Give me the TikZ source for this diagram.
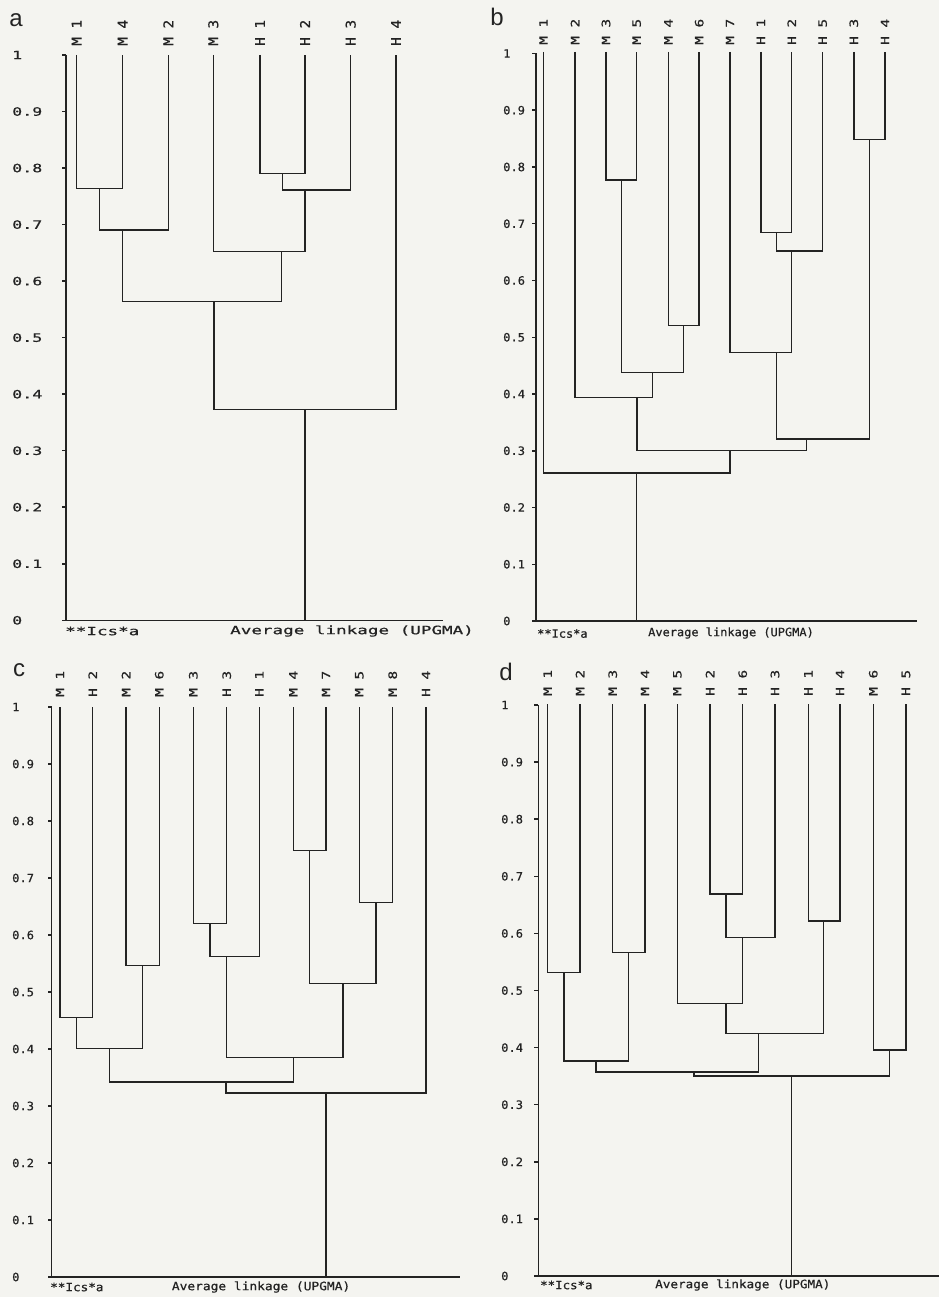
\documentclass[tikz,border=0pt]{standalone}
\usepackage{fontspec}
\usepackage{graphicx}
\newfontfamily\plotfont[FakeBold=0.6]{DejaVu Sans Mono}
\newfontfamily\letfont{Liberation Sans}
\definecolor{paper}{RGB}{244,244,240}
\definecolor{ink}{RGB}{35,35,35}
\newcommand\pf{\plotfont\fontsize{11.5}{13}\selectfont}
\newcommand\lsy{1}
\newcommand\leaf[5]{\coordinate (#1) at (#2,#3);
  \node[leaflab] (#1-lab) at (#2,#4) {\scalebox{1.25}[\lsy]{#5}};}
\newcommand\mrg[5]{\coordinate (#1) at (#4,#5);
  \draw[dl] (#2) |- (#1) -| (#3);}
\newcommand\yaxis[6]{%
  \coordinate (#1-ax0) at (#2,#3);
  \coordinate (#1-ax1) at (#2,{#3-10*#4});
  \draw[dl] (#1-ax1) -- (#1-ax0);
  \foreach \i/\t in {0/0,1/0.1,2/0.2,3/0.3,4/0.4,5/0.5,6/0.6,7/0.7,8/0.8,9/0.9,10/1}{
    \draw[dl] (#2,{#3-\i*#4}) -- ++(-4,0);
    \node[ticklab] (#1-t\i) at (#5,{#3-\i*#4}) {\scalebox{#6}[1]{\t}};
  }}
\begin{document}
\begin{tikzpicture}[x=1pt,y=-1pt,
  dl/.style={draw=ink,line width=1.5pt},
  leaflab/.style={rotate=90,anchor=west,inner sep=0pt,font=\pf,text=ink},
  ticklab/.style={anchor=west,inner sep=0pt,font=\pf,text=ink},
  botlab/.style={anchor=west,inner sep=0pt,font=\pf,text=ink},
  panlab/.style={inner sep=0pt,font=\letfont\fontsize{24}{26}\selectfont,text=ink}]
\fill[paper] (0,0) rectangle (939,1297);
\useasboundingbox (0,0) rectangle (939,1297);

% ---------------- panel a ----------------
\node[panlab] (pa) at (16,20) {a};
\yaxis{a}{66}{620.3}{56.53}{12}{1.45}
\renewcommand\lsy{1.17}
\leaf{a-M1}{76.7}{55}{46}{M 1}
\leaf{a-M4}{122.7}{55}{46}{M 4}
\leaf{a-M2}{168.3}{55}{46}{M 2}
\leaf{a-M3}{213.3}{55}{46}{M 3}
\leaf{a-H1}{260}{55}{46}{H 1}
\leaf{a-H2}{305}{55}{46}{H 2}
\leaf{a-H3}{350.7}{55}{46}{H 3}
\leaf{a-H4}{396}{55}{46}{H 4}
\mrg{a-m1}{a-M1}{a-M4}{99.5}{188.3}
\mrg{a-m2}{a-m1}{a-M2}{122.5}{230}
\mrg{a-m3}{a-H1}{a-H2}{282.5}{173.3}
\mrg{a-m4}{a-m3}{a-H3}{305}{190}
\mrg{a-m5}{a-M3}{a-m4}{281.5}{251.7}
\mrg{a-m6}{a-m2}{a-m5}{213.8}{301.7}
\mrg{a-m7}{a-m6}{a-H4}{305}{409.3}
\draw[dl] (a-m7) -- (a-m7 |- a-ax0);
\coordinate (a-bl) at (62,620.3);
\coordinate (a-br) at (443,620.3);
\draw[dl] (a-bl) -- (a-br);
\node[botlab] (a-ics) at (65,631) {\scalebox{1.53}[1]{**Ics*a}};
\node[botlab] (a-avg) at (230,631) {\scalebox{1.53}[1]{Average linkage (UPGMA)}};

% ---------------- panel b ----------------
\renewcommand\lsy{1}
\node[panlab] (pb) at (497,17) {b};
\yaxis{b}{536}{621}{56.75}{503}{1.05}
\leaf{b-M1}{543.5}{52}{45}{M 1}
\leaf{b-M2}{575}{52}{45}{M 2}
\leaf{b-M3}{606}{52}{45}{M 3}
\leaf{b-M5}{636.7}{52}{45}{M 5}
\leaf{b-M4}{668.3}{52}{45}{M 4}
\leaf{b-M6}{699.2}{52}{45}{M 6}
\leaf{b-M7}{730}{52}{45}{M 7}
\leaf{b-H1}{760.8}{52}{45}{H 1}
\leaf{b-H2}{791.7}{52}{45}{H 2}
\leaf{b-H5}{822.7}{52}{45}{H 5}
\leaf{b-H3}{853.8}{52}{45}{H 3}
\leaf{b-H4}{885}{52}{45}{H 4}
\mrg{b-m1}{b-M3}{b-M5}{621.3}{180}
\mrg{b-m2}{b-M4}{b-M6}{683.7}{325.7}
\mrg{b-m3}{b-m1}{b-m2}{652.5}{372.3}
\mrg{b-m4}{b-M2}{b-m3}{637.2}{397.3}
\mrg{b-m5}{b-H1}{b-H2}{776.3}{232.7}
\mrg{b-m6}{b-m5}{b-H5}{791.7}{251}
\mrg{b-m7}{b-M7}{b-m6}{776.3}{352.3}
\mrg{b-m8}{b-H3}{b-H4}{869.4}{139.3}
\mrg{b-m9}{b-m7}{b-m8}{806.7}{439}
\mrg{b-m10}{b-m4}{b-m9}{730}{450.7}
\mrg{b-m11}{b-M1}{b-m10}{636.7}{473}
\draw[dl] (b-m11) -- (b-m11 |- b-ax0);
\coordinate (b-bl) at (533,621);
\coordinate (b-br) at (916.7,621);
\draw[dl] (b-bl) -- (b-br);
\node[botlab] (b-ics) at (537,633.5) {\scalebox{1.04}[1]{**Ics*a}};
\node[botlab] (b-avg) at (648,633) {\scalebox{1.04}[1]{Average linkage (UPGMA)}};

% ---------------- panel c ----------------
\node[panlab] (pc) at (19,670) {c};
\yaxis{c}{51.7}{1277}{57}{12}{1.05}
\leaf{c-M1}{60}{707}{697}{M 1}
\leaf{c-H2}{92.7}{707}{697}{H 2}
\leaf{c-M2}{126}{707}{697}{M 2}
\leaf{c-M6}{159.3}{707}{697}{M 6}
\leaf{c-M3}{193.3}{707}{697}{M 3}
\leaf{c-H3}{226.7}{707}{697}{H 3}
\leaf{c-H1}{259.3}{707}{697}{H 1}
\leaf{c-M4}{293.3}{707}{697}{M 4}
\leaf{c-M7}{326}{707}{697}{M 7}
\leaf{c-M5}{359.3}{707}{697}{M 5}
\leaf{c-M8}{392.7}{707}{697}{M 8}
\leaf{c-H4}{426}{707}{697}{H 4}
\mrg{c-m1}{c-M1}{c-H2}{76.3}{1017.3}
\mrg{c-m2}{c-M2}{c-M6}{142.7}{965.7}
\mrg{c-m3}{c-m1}{c-m2}{109.5}{1048.3}
\mrg{c-m4}{c-M3}{c-H3}{210}{923.3}
\mrg{c-m5}{c-m4}{c-H1}{226.5}{956.7}
\mrg{c-m6}{c-M4}{c-M7}{309.7}{850.7}
\mrg{c-m7}{c-M5}{c-M8}{376}{902.3}
\mrg{c-m8}{c-m6}{c-m7}{342.8}{983.3}
\mrg{c-m9}{c-m5}{c-m8}{293.3}{1057.3}
\mrg{c-m10}{c-m3}{c-m9}{226.2}{1082}
\mrg{c-m11}{c-m10}{c-H4}{326}{1093}
\draw[dl] (c-m11) -- (c-m11 |- c-ax0);
\coordinate (c-bl) at (49,1277);
\coordinate (c-br) at (460,1277);
\draw[dl] (c-bl) -- (c-br);
\node[botlab] (c-ics) at (50,1287) {\scalebox{1.1}[1]{**Ics*a}};
\node[botlab] (c-avg) at (171.7,1287) {\scalebox{1.12}[1]{Average linkage (UPGMA)}};

% ---------------- panel d ----------------
\node[panlab] (pd) at (506,672) {d};
\yaxis{d}{538.3}{1276}{57.1}{501}{1.05}
\leaf{d-M1}{547.7}{704}{696}{M 1}
\leaf{d-M2}{580}{704}{696}{M 2}
\leaf{d-M3}{612.7}{704}{696}{M 3}
\leaf{d-M4}{645}{704}{696}{M 4}
\leaf{d-M5}{677.3}{704}{696}{M 5}
\leaf{d-H2}{710}{704}{696}{H 2}
\leaf{d-H6}{742.7}{704}{696}{H 6}
\leaf{d-H3}{775}{704}{696}{H 3}
\leaf{d-H1}{808.3}{704}{696}{H 1}
\leaf{d-H4}{840}{704}{696}{H 4}
\leaf{d-M6}{873.3}{704}{696}{M 6}
\leaf{d-H5}{906}{704}{696}{H 5}
\mrg{d-m1}{d-M1}{d-M2}{564}{972.7}
\mrg{d-m2}{d-M3}{d-M4}{628.5}{952.3}
\mrg{d-m3}{d-m1}{d-m2}{596}{1061}
\mrg{d-m4}{d-H2}{d-H6}{726}{894}
\mrg{d-m5}{d-m4}{d-H3}{742.5}{937.3}
\mrg{d-m6}{d-M5}{d-m5}{726}{1003.3}
\mrg{d-m7}{d-H1}{d-H4}{823.3}{921}
\mrg{d-m8}{d-m6}{d-m7}{758.5}{1033.3}
\mrg{d-m9}{d-M6}{d-H5}{889.7}{1050}
\mrg{d-m10}{d-m3}{d-m8}{694}{1072}
\mrg{d-m11}{d-m10}{d-m9}{791.5}{1076}
\draw[dl] (d-m11) -- (d-m11 |- d-ax0);
\coordinate (d-bl) at (536,1276);
\coordinate (d-br) at (939,1276);
\draw[dl] (d-bl) -- (d-br);
\node[botlab] (d-ics) at (540,1285) {\scalebox{1.08}[1]{**Ics*a}};
\node[botlab] (d-avg) at (655,1285) {\scalebox{1.1}[1]{Average linkage (UPGMA)}};
\end{tikzpicture}
\end{document}
